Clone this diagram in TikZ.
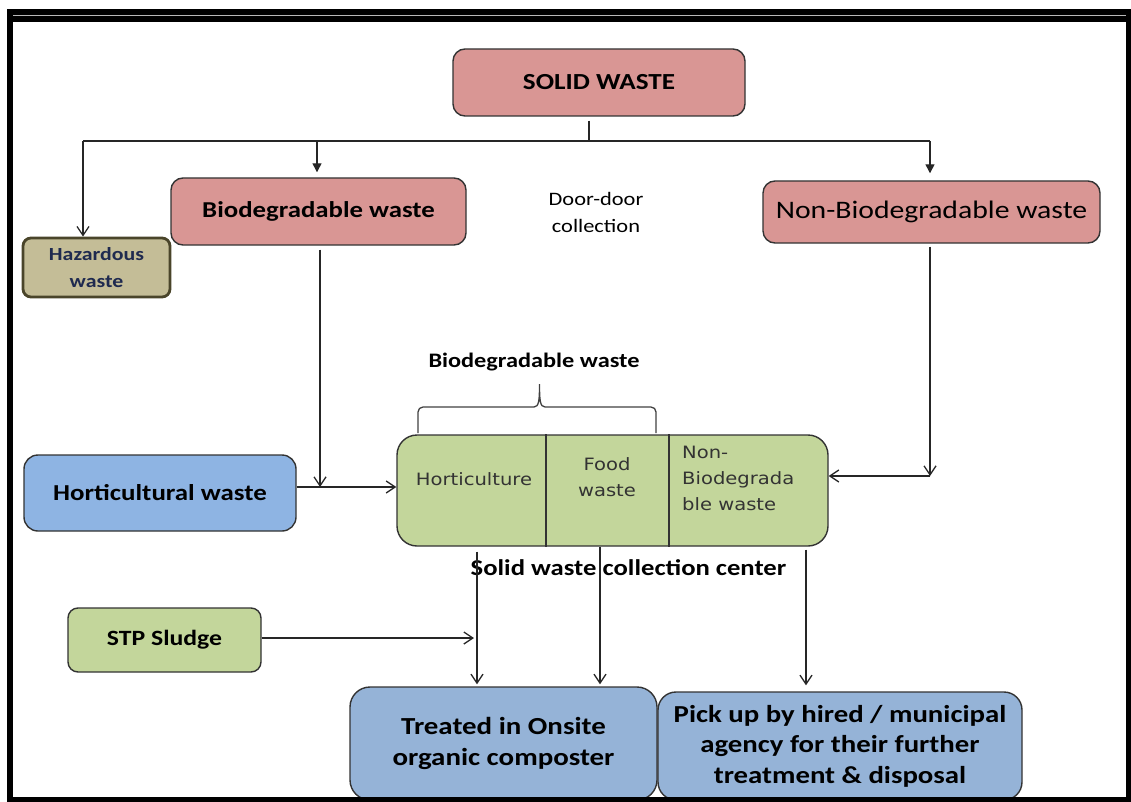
\documentclass[tikz,border=0pt]{standalone}
\usepackage{fontspec}
\setmainfont{Carlito}[FakeStretch=1.18]
\newfontfamily\vfont{DejaVu Sans}[FakeStretch=1.15]
\usetikzlibrary{arrows.meta}
\definecolor{redfill}{HTML}{D99694}
\definecolor{hazfill}{HTML}{C4BD97}
\definecolor{hazline}{HTML}{4A452A}
\definecolor{hortblue}{HTML}{8EB4E3}
\definecolor{boxblue}{HTML}{95B3D7}
\definecolor{greenfill}{HTML}{C3D69B}
\definecolor{edge}{HTML}{333333}
\definecolor{navytext}{HTML}{1F2A4F}
\tikzset{
  box/.style={draw=edge, line width=1.4pt, rounded corners=12pt, inner sep=0pt, align=center, text=black},
  redbox/.style={box, fill=redfill},
  hazbox/.style={box, fill=hazfill, draw=hazline, line width=2.8pt, rounded corners=8pt, text=navytext},
  bluebox/.style={box, fill=boxblue},
  greenbox/.style={box, fill=greenfill},
  vtext/.style={font=\vfont\fontsize{17}{26}\selectfont, text=black!80, inner sep=0pt},
  conn/.style={line width=1.3pt, draw=black!85},
  varr/.style={conn, -{Straight Barb[length=9pt,width=12pt,line width=1.3pt]}},
  tarr/.style={conn, -{Triangle[length=9pt,width=9pt]}}
}
\begin{document}
\begin{tikzpicture}[x=1pt,y=-1pt]
\useasboundingbox (0,0) rectangle (1131,802);
% nodes
\node[redbox, minimum width=292pt, minimum height=67pt, font=\bfseries\fontsize{23}{27}\selectfont] (solid) at (599,82.5) {SOLID WASTE};
\node[redbox, minimum width=295pt, minimum height=67pt, font=\bfseries\fontsize{22.7}{26}\selectfont] (bio) at (318.5,211.5) {Biodegradable waste};
\node[redbox, minimum width=337pt, minimum height=62pt, font=\fontsize{25.2}{30}\selectfont] (nonbio) at (931.5,212) {Non-Biodegradable waste};
\node[hazbox, minimum width=147pt, minimum height=59pt, font=\bfseries\fontsize{18.5}{27}\selectfont] (haz) at (96.5,267.5) {Hazardous\\waste};
\node[font=\fontsize{19}{27}\selectfont, align=center, inner sep=0pt] (door) at (596,212.5) {Door-door\\collection};
\node[box, fill=hortblue, minimum width=272pt, minimum height=76pt, rounded corners=14pt, font=\bfseries\fontsize{22.8}{27}\selectfont] (hort) at (160,493) {Horticultural waste};
\node[greenbox, minimum width=431pt, minimum height=111pt, rounded corners=20pt] (green) at (612.5,490.5) {};
\coordinate (d1) at (546,0);
\coordinate (d2) at (669,0);
\draw[line width=1.4pt, draw=edge] (d1 |- green.north) -- (d1 |- green.south);
\draw[line width=1.4pt, draw=edge] (d2 |- green.north) -- (d2 |- green.south);
\node[vtext] (hc) at (474,479) {Horticulture};
\node[vtext, align=center] (fw) at (607,477) {Food\\waste};
\node[vtext, align=left, anchor=west] (nbw) at (682,478) {Non-\\Biodegrada\\ble waste};
\node[font=\bfseries\fontsize{20.6}{24}\selectfont, inner sep=0pt] (bl) at (534,362) {Biodegradable waste};
\node[font=\bfseries\fontsize{22.6}{26}\selectfont, inner sep=0pt] (cl) at (628.5,568) {Solid waste collection center};
\node[greenbox, minimum width=193pt, minimum height=64pt, rounded corners=10pt, font=\bfseries\fontsize{21.8}{26}\selectfont] (stp) at (164.5,640) {STP Sludge};
\node[bluebox, minimum width=307pt, minimum height=113pt, rounded corners=20pt, font=\bfseries\fontsize{24.5}{31}\selectfont] (treat) at (503.5,743.5) {Treated in Onsite\\organic composter};
\node[bluebox, minimum width=364pt, minimum height=108pt, rounded corners=18pt, font=\bfseries\fontsize{24.4}{30.5}\selectfont] (pick) at (840,746) {Pick up by hired / municipal\\agency for their further\\treatment \& disposal};
% brace
\draw[line width=1.3pt, draw=black!75, rounded corners=5pt] (418,433) -- (418,407) -- (534,407);
\draw[line width=1.3pt, draw=black!75] (534,407) .. controls (539,407) and (539.5,400) .. (539.5,384) .. controls (539.5,400) and (540,407) .. (545,407);
\draw[line width=1.3pt, draw=black!75, rounded corners=5pt] (545,407) -- (656,407) -- (656,433);
% connectors
\coordinate (j) at (589,141);
\coordinate (hl) at (83,141);
\coordinate (hr) at (930,141);
\coordinate (hb) at (317,141);
\draw[conn, shorten <=4pt] (solid.south -| j) -- (j);
\draw[conn] (hl) -- (hr);
\draw[varr] (hl) -- (hl |- haz.north);
\draw[tarr, shorten >=5pt] (hb) -- (hb |- bio.north);
\draw[tarr, shorten >=7pt] (hr) -- (hr |- nonbio.north);
\coordinate (bj) at (320,487);
\draw[varr, shorten <=4pt] (bj |- bio.south) -- (bj);
\draw[varr] (hort.east |- bj) -- (green.west |- bj);
\coordinate (nj) at (930,476);
\draw[varr, shorten <=3pt] (nj |- nonbio.south) -- (nj);
\draw[varr] (nj) -- (green.east |- nj);
\coordinate (c1) at (477,0);
\coordinate (c2) at (600,0);
\coordinate (c3) at (806,0);
\draw[varr, shorten <=5pt, shorten >=2pt] (c1 |- green.south) -- (c1 |- treat.north);
\draw[varr, shorten >=2pt] (c2 |- green.south) -- (c2 |- treat.north);
\draw[varr, shorten <=3pt, shorten >=6pt] (c3 |- green.south) -- (c3 |- pick.north);
\coordinate (sj) at (474,638);
\draw[varr] (stp.east |- sj) -- (sj);
% frame
\fill[black] (7,9) rectangle (1131,22);
\draw[gray!55, line width=1.2pt] (13,15.5) -- (1131,15.5);
\fill[black] (7,9) rectangle (13,802);
\fill[black] (1126,9) rectangle (1131,802);
\fill[black] (7,797) rectangle (1131,802);
\end{tikzpicture}
\end{document}
